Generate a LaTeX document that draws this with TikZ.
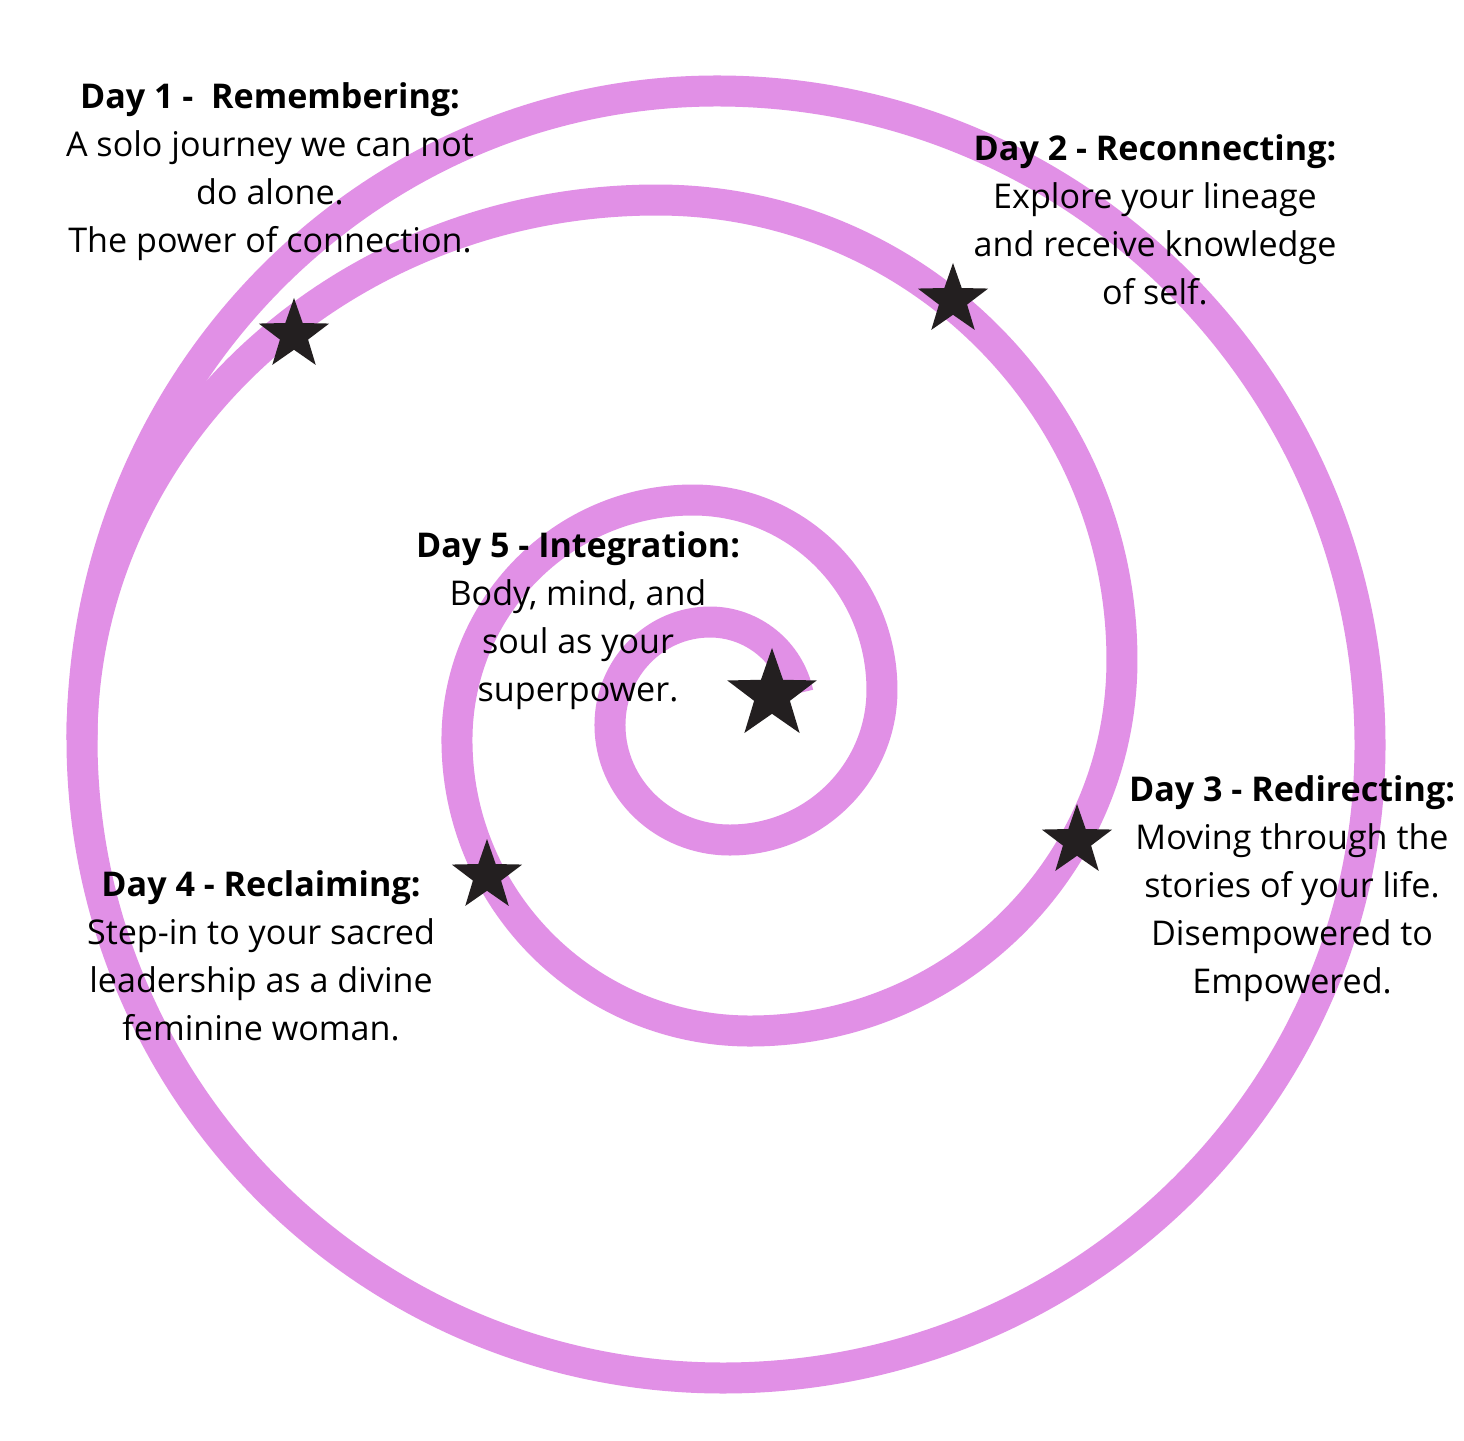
\documentclass[tikz,border=0pt]{standalone}
\usepackage{fontspec}
\setmainfont{Open Sans}
\usetikzlibrary{shapes.geometric}

\definecolor{spiralpink}{HTML}{E190E6}
\definecolor{starink}{HTML}{231F20}

\tikzset{
  band/.style={draw=spiralpink, line width=0.31cm},
  daytext/.style={align=center, text=black, inner sep=0pt,
    font=\fontsize{9.7}{13.66}\selectfont},
  sketchstar/.style={star, star points=5, star point ratio=2.5,
    fill=starink, inner sep=0pt, minimum size=0.74cm}
}

\begin{document}
\begin{tikzpicture}
        \fill[white] (0,0) rectangle (14.64,14.40);
        \useasboundingbox (0,0) rectangle (14.64,14.40);

        % spiral, from the centre out
        \draw[band] (7.980,7.467)
            arc[start angle=12,  end angle=90,  x radius=0.90, y radius=0.90]
            arc[start angle=90,  end angle=180, x radius=1.00, y radius=1.03]
            arc[start angle=180, end angle=270, x radius=1.20, y radius=1.15]
            arc[start angle=270, end angle=360, x radius=1.52, y radius=1.50]
            arc[start angle=0,   end angle=90,  x radius=1.89, y radius=1.90]
            arc[start angle=90,  end angle=180, x radius=2.36, y radius=2.40]
            arc[start angle=180, end angle=270, x radius=2.93, y radius=2.91]
            arc[start angle=270, end angle=360, x radius=3.72, y radius=3.71]
            arc[start angle=0,   end angle=90,  x radius=4.65, y radius=4.60]
            arc[start angle=90,  end angle=180, x radius=5.75, y radius=5.40];
        % outer ring
        \draw[band] (0.82,7.00)
            arc[start angle=180, end angle=270, x radius=6.41, y radius=6.38]
            arc[start angle=270, end angle=360, x radius=6.47, y radius=6.33]
            arc[start angle=0,   end angle=90,  x radius=6.53, y radius=6.54]
            arc[start angle=90,  end angle=180, x radius=6.35, y radius=6.49]
            -- cycle;

        \node (s1) [sketchstar] at (2.94,11.05) {};
        \node (s2) [sketchstar] at (9.53,11.40) {};
        \node (s3) [sketchstar] at (10.77,5.99) {};
        \node (s4) [sketchstar] at (4.87,5.64) {};
        \node (s5) [sketchstar, minimum size=0.94cm] at (7.72,7.45) {};

        \node (day1) [daytext] at (2.70,12.68)
            {\textbf{Day 1 -\ \ Remembering:}\\ A solo journey we can not\\ do alone.\\ The power of connection.};
        \node (day2) [daytext] at (11.55,12.20)
            {\textbf{Day 2 - Reconnecting:}\\ Explore your lineage\\ and receive knowledge\\ of self.};
        \node (day3) [daytext] at (12.92,5.515)
            {\textbf{Day 3 - Redirecting:}\\ Moving through the\\ stories of your life.\\ Disempowered to\\ Empowered.};
        \node (day4) [daytext] at (2.61,4.845)
            {\textbf{Day 4 - Reclaiming:}\\ Step-in to your sacred\\ leadership as a divine\\ feminine woman.};
        \node (day5) [daytext] at (5.78,8.19)
            {\textbf{Day 5 - Integration:}\\ Body, mind, and\\ soul as your\\ superpower.};
    \end{tikzpicture}
\end{document}
